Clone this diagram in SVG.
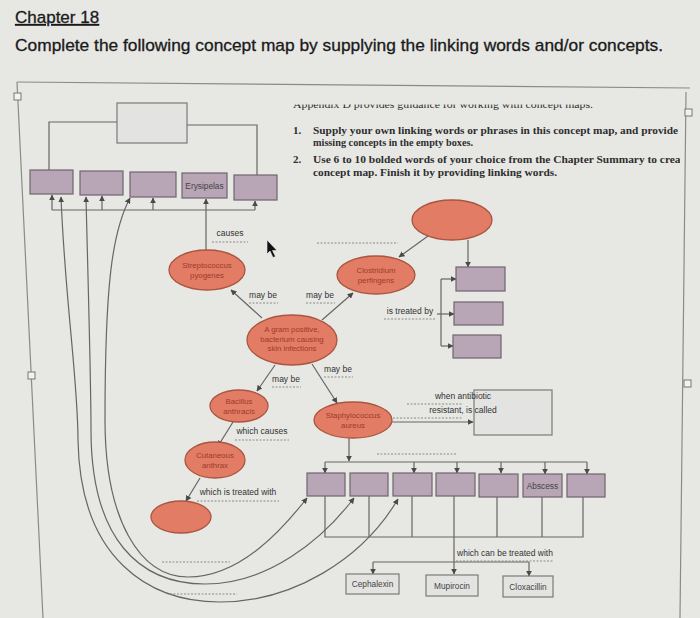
<svg xmlns="http://www.w3.org/2000/svg" width="700" height="618" viewBox="0 0 700 618">
<defs>
<marker id="ah" viewBox="0 0 10 10" refX="9" refY="5" markerWidth="5" markerHeight="5" orient="auto-start-reverse"><path d="M0,0 L10,5 L0,10 Z" fill="#4a4a4a"/></marker>
<clipPath id="clipR"><rect x="0" y="104.5" width="680" height="100"/></clipPath>
<style>
.pg{fill:none;stroke:#8a8a88;stroke-width:1.2}
.sq{fill:#f2f2f0;stroke:#777;stroke-width:1}
.c{fill:none;stroke:#666;stroke-width:1.2}
.ca{fill:none;stroke:#666;stroke-width:1.2;marker-end:url(#ah)}
.cb{fill:none;stroke:#666;stroke-width:1.2;marker-end:url(#ah);marker-start:url(#ah)}
.pb{fill:#b8a5b5;stroke:#6f6570;stroke-width:1.2}
.gb{fill:#e3e3e1;stroke:#7a7a7a;stroke-width:1.2}
.el{fill:#e27c65;stroke:#a9553f;stroke-width:1.3}
.et{font-family:"Liberation Sans",Arial,sans-serif;font-size:7.8px;fill:#9c3b2b;text-anchor:middle}
.lt{font-family:"Liberation Sans",Arial,sans-serif;font-size:8.5px;fill:#333;text-anchor:middle}
.bt{font-family:"Liberation Sans",Arial,sans-serif;font-size:8.3px;fill:#444;text-anchor:middle}
.ds{fill:none;stroke:#8a8a8a;stroke-width:1;stroke-dasharray:2 1.5}
.ins{font-family:"Liberation Serif","Times New Roman",serif;font-size:11px;font-weight:bold;fill:#2e2e2e}
.hd{font-family:"Liberation Sans",Arial,sans-serif;font-size:17px;fill:#1a1a1a;stroke:#1a1a1a;stroke-width:0.3}
</style>
</defs>
<rect width="700" height="618" fill="#e7e7e4"/>

<!-- header -->
<text class="hd" x="15" y="23" text-decoration="underline">Chapter 18</text>
<text class="hd" x="15" y="51" textLength="648" lengthAdjust="spacingAndGlyphs">Complete the following concept map by supplying the linking words and/or concepts.</text>

<!-- page frame -->
<g id="page-frame">
<path class="pg" d="M17,82 L690,88"/>
<path class="pg" d="M17,82 L43,618"/>
<path class="pg" d="M686,92 L680,618"/>
<rect class="sq" x="14" y="93" width="7" height="7"/>
<rect class="sq" x="28" y="372" width="7" height="7"/>
<rect class="sq" x="685" y="109" width="7" height="7"/>
<rect class="sq" x="684" y="380" width="7" height="7"/>
</g>

<!-- instructions -->
<g id="instructions" clip-path="url(#clipR)">
<text class="ins" x="293" y="107.5" style="font-weight:normal" textLength="300" lengthAdjust="spacingAndGlyphs">Appendix D provides guidance for working with concept maps.</text>
<text class="ins" x="293" y="134">1.</text>
<text class="ins" x="313" y="134" textLength="383" lengthAdjust="spacingAndGlyphs">Supply your own linking words or phrases in this concept map, and provide the</text>
<text class="ins" x="313" y="146" textLength="160" lengthAdjust="spacingAndGlyphs">missing concepts in the empty boxes.</text>
<text class="ins" x="293" y="163">2.</text>
<text class="ins" x="313" y="163" textLength="385" lengthAdjust="spacingAndGlyphs">Use 6 to 10 bolded words of your choice from the Chapter Summary to create a</text>
<text class="ins" x="313" y="176" textLength="244" lengthAdjust="spacingAndGlyphs">concept map. Finish it by providing linking words.</text>
</g>

<!-- connectors -->
<g id="connectors">
<path class="c" d="M117,122 H49 V170"/>
<path class="c" d="M187,125 H257 V175"/>
<path class="c" d="M52,210 H255"/>
<path class="ca" d="M52,210 V195"/>
<path class="ca" d="M102,210 V196"/>
<path class="ca" d="M153,210 V198"/>
<path class="ca" d="M255,210 V201"/>
<path class="ca" d="M206,250 V199"/>
<path class="cb" d="M130,198 C112,232 105,285 105,420 C105,520 140,577 188,577 C240,577 282,530 307,498"/>
<path class="cb" d="M86,197 C88,280 91,380 91,430 C91,540 140,584 205,584 C268,584 322,540 354,498"/>
<path class="cb" d="M61,197 C65,300 78,380 78,440 C80,560 150,602 220,602 C292,602 362,560 398,499"/>
<path class="ca" d="M262,318 L231,290"/>
<path class="ca" d="M322,320 L353,293"/>
<path class="ca" d="M275,365 L257,391"/>
<path class="ca" d="M312,364 L337,403"/>
<path class="ca" d="M428,236 L399,257"/>
<path class="ca" d="M468,240 V267"/>
<path class="c" d="M441,279 V346"/>
<path class="ca" d="M441,279 H456"/>
<path class="ca" d="M437,314 H454"/>
<path class="ca" d="M441,346 H453"/>
<path class="ca" d="M233,422 L218,446"/>
<path class="ca" d="M200,478 L186,501"/>
<path class="ca" d="M392,422 H473"/>
<path class="ca" d="M349,438 V461"/>
<path class="c" d="M325,462 H587"/>
<path class="ca" d="M325,462 V473"/>
<path class="ca" d="M414,462 V473"/>
<path class="ca" d="M457,462 V473"/>
<path class="ca" d="M501,462 V473"/>
<path class="ca" d="M545,462 V474"/>
<path class="ca" d="M587,462 V474"/>
<path class="c" d="M325,496 V537 H583 V497 M369,496 V537 M412,496 V537 M497,496 V537 M542,497 V537"/>
<path class="ca" d="M454,496 V574"/>
<path class="c" d="M373,562 H529"/>
<path class="ca" d="M373,562 V574"/>
<path class="ca" d="M529,562 V576"/>
</g>

<!-- top box row -->
<g id="box-top"><rect class="gb" x="117" y="103" width="70" height="40"/></g>
<g id="box-t1"><rect class="pb" x="30" y="170" width="43" height="24"/></g>
<g id="box-t2"><rect class="pb" x="80" y="171" width="43" height="24"/></g>
<g id="box-t3"><rect class="pb" x="130" y="172" width="46" height="25"/></g>
<g id="box-erysipelas"><rect class="pb" x="182" y="173" width="45" height="25"/><text class="bt" x="204.5" y="188.5">Erysipelas</text></g>
<g id="box-t5"><rect class="pb" x="234" y="175" width="43" height="25"/></g>

<!-- ellipses -->
<g id="strep"><ellipse class="el" cx="207" cy="270" rx="38" ry="20"/><text class="et" x="207" y="268">Streptococcus</text><text class="et" x="207" y="278">pyogenes</text></g>
<g id="top-right-ellipse"><ellipse class="el" cx="452" cy="220" rx="40" ry="20"/></g>
<g id="clostridium"><ellipse class="el" cx="376" cy="275" rx="39" ry="19"/><text class="et" x="376" y="273">Clostridium</text><text class="et" x="376" y="283">perfingens</text></g>
<g id="gram-positive"><ellipse class="el" cx="292" cy="340" rx="45" ry="25"/><text class="et" x="292" y="332">A gram positive,</text><text class="et" x="292" y="341.5">bacterium causing</text><text class="et" x="292" y="351">skin infections</text></g>
<g id="bacillus"><ellipse class="el" cx="239" cy="406" rx="29" ry="16"/><text class="et" x="239" y="404">Bacillus</text><text class="et" x="239" y="414">anthracis</text></g>
<g id="cutaneous"><ellipse class="el" cx="215" cy="460" rx="30" ry="18"/><text class="et" x="215" y="458">Cutaneous</text><text class="et" x="215" y="468">anthrax</text></g>
<g id="blank-ellipse"><ellipse class="el" cx="181" cy="517" rx="30" ry="16"/></g>
<g id="staph"><ellipse class="el" cx="353" cy="420" rx="39" ry="18"/><text class="et" x="353" y="418">Staphylococcus</text><text class="et" x="353" y="428">aureus</text></g>

<!-- right boxes -->
<g id="box-r1"><rect class="pb" x="456" y="267" width="49" height="24"/></g>
<g id="box-r2"><rect class="pb" x="454" y="302" width="49" height="23"/></g>
<g id="box-r3"><rect class="pb" x="453" y="335" width="48" height="23"/></g>
<g id="box-resistant"><rect class="gb" x="474" y="390" width="78" height="45"/></g>

<!-- bottom row -->
<g id="box-b1"><rect class="pb" x="307" y="473" width="38" height="23"/></g>
<g id="box-b2"><rect class="pb" x="350" y="473" width="38" height="23"/></g>
<g id="box-b3"><rect class="pb" x="393" y="473" width="39" height="23"/></g>
<g id="box-b4"><rect class="pb" x="436" y="473" width="39" height="23"/></g>
<g id="box-b5"><rect class="pb" x="479" y="474" width="39" height="23"/></g>
<g id="box-abscess"><rect class="pb" x="523" y="474" width="39" height="23"/><text class="bt" x="542.5" y="488.5">Abscess</text></g>
<g id="box-b7"><rect class="pb" x="567" y="474" width="38" height="23"/></g>

<g id="cephalexin"><rect class="gb" x="346" y="574" width="53" height="20"/><text class="bt" x="372.5" y="587">Cephalexin</text></g>
<g id="mupirocin"><rect class="gb" x="426" y="575" width="52" height="21"/><text class="bt" x="452" y="588.5">Mupirocin</text></g>
<g id="cloxacillin"><rect class="gb" x="503" y="576" width="50" height="21"/><text class="bt" x="528" y="589.5">Cloxacillin</text></g>

<!-- linking labels -->
<g id="labels">
<text class="lt" x="230" y="236">causes</text><path class="ds" d="M212,242 H248"/>
<path class="ds" d="M317,243 H398"/>
<text class="lt" x="263" y="298">may be</text><path class="ds" d="M249,303 H278"/>
<text class="lt" x="320" y="298">may be</text><path class="ds" d="M306,303 H335"/>
<text class="lt" x="410" y="314">is treated by</text><path class="ds" d="M384,319 H436"/>
<text class="lt" x="286" y="382">may be</text><path class="ds" d="M272,387 H301"/>
<text class="lt" x="338" y="372">may be</text><path class="ds" d="M324,377 H353"/>
<text class="lt" x="463" y="399" text-anchor="end">when antibiotic</text><path class="ds" d="M407,404 H463"/>
<text class="lt" x="463" y="413" text-anchor="end">resistant, is called</text><path class="ds" d="M393,418 H463"/>
<text class="lt" x="262" y="434">which causes</text><path class="ds" d="M235,440 H289"/>
<text class="lt" x="238" y="495">which is treated with</text><path class="ds" d="M197,501 H279"/>
<path class="ds" d="M377,454 H457"/>
<text class="lt" x="505" y="556">which can be treated with</text><path class="ds" d="M456,561 H554"/>
<path class="ds" d="M162,562 H230"/>
<path class="ds" d="M170,594 H237"/>
</g>

<!-- mouse cursor -->
<path d="M267,240 V254 L270,251 L273,257.5 L275.5,256.5 L272.5,250.5 L277,250.5 Z" fill="#111" stroke="#eee" stroke-width="0.6"/>
</svg>
